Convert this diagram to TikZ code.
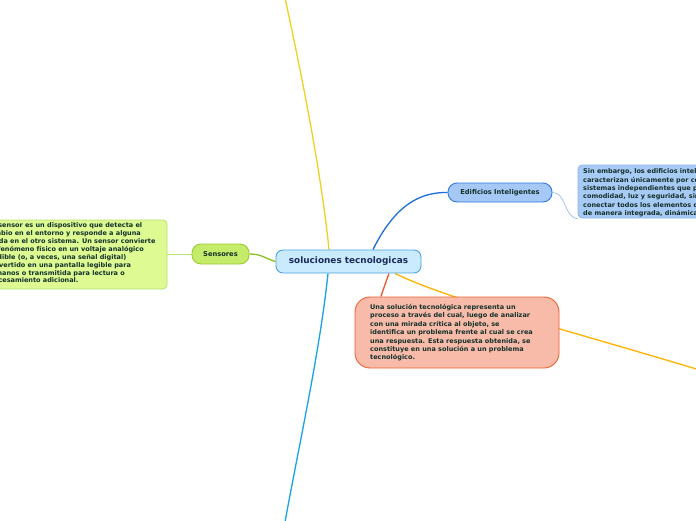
\documentclass[tikz,border=0pt]{standalone}
\usepackage{fontspec}
\setmainfont{DejaVu Sans}
\usetikzlibrary{calc}
\definecolor{cfill}{HTML}{C9EBFD}
\definecolor{cdraw}{HTML}{4AA3DF}
\definecolor{ctext}{HTML}{1B2A5A}
\definecolor{gfill}{HTML}{C5EB6A}
\definecolor{gdraw}{HTML}{9CCB32}
\definecolor{gbox}{HTML}{DDFA93}
\definecolor{gboxd}{HTML}{B8E36A}
\definecolor{efill}{HTML}{A6C8F6}
\definecolor{edraw}{HTML}{2C7BE0}
\definecolor{ebox}{HTML}{A8CBF5}
\definecolor{eboxd}{HTML}{8DB6EE}
\definecolor{rfill}{HTML}{F8BBA9}
\definecolor{rdraw}{HTML}{EC6232}
\definecolor{dtext}{HTML}{12302A}
\definecolor{yline}{HTML}{F0D21C}
\definecolor{lbline}{HTML}{18A4EA}
\definecolor{dbline}{HTML}{1E6FD9}
\definecolor{rline}{HTML}{E85A2A}
\definecolor{oline}{HTML}{FFB300}
\definecolor{gline}{HTML}{8DBF1E}
\pgfdeclarelayer{bgzero}
\pgfdeclarelayer{background}
\pgfsetlayers{bgzero,background,main}
\tikzset{
  topic/.style={draw, line width=0.9pt, inner sep=0pt, font=\bfseries\fontsize{6.7}{7}\selectfont, text=dtext},
  boxtext/.style={align=left, anchor=north west, inner sep=0pt, font=\bfseries\fontsize{6.5}{8.4}\selectfont, text=dtext},
  conn/.style={line width=1.3pt},
  thin link/.style={line width=0.6pt}
}
\begin{document}
\begin{tikzpicture}[x=1pt,y=-1pt]
\useasboundingbox (0,0) rectangle (696,520);
\begin{pgfonlayer}{bgzero}
\fill[white] (0,0) rectangle (696,520);
\end{pgfonlayer}
\clip (0,0) rectangle (696,520);
% central
\node[draw=cdraw, fill=cfill, line width=0.9pt, rounded corners=7pt, minimum width=145pt, minimum height=23pt, inner sep=0pt, text=ctext, font=\bfseries\fontsize{8.9}{9}\selectfont] (c) at (348.5,261.5) {soluciones tecnologicas};
% sensores
\node[topic, draw=gdraw, fill=gfill, rounded corners=9pt, minimum width=57pt, minimum height=20pt] (s) at (220.5,254) {Sensores};
\node[draw=gboxd, fill=gbox, line width=0.7pt, rounded corners=4pt, minimum width=192pt, minimum height=69pt, inner sep=0pt] (sb) at (71,254.5) {};
\node[boxtext, font=\bfseries\fontsize{6.5}{7.9}\selectfont] (sbt) at (-14,222.5) {Un sensor es un dispositivo que detecta el\\ cambio en el entorno y responde a alguna\\ salida en el otro sistema. Un sensor convierte\\ un fenómeno físico en un voltaje analógico\\ medible (o, a veces, una señal digital)\\ convertido en una pantalla legible para\\ humanos o transmitida para lectura o\\ procesamiento adicional.};
% edificios
\node[topic, draw=edraw, fill=efill, rounded corners=9pt, minimum width=104pt, minimum height=19pt] (e) at (500,192.5) {Edificios Inteligentes};
\node[draw=eboxd, fill=ebox, line width=0.7pt, rounded corners=4pt, minimum width=142pt, minimum height=53pt, inner sep=0pt] (eb) at (649,191.5) {};
\node[boxtext] (ebt) at (583,168.5) {Sin embargo, los edificios inteligentes no se\\ caracterizan únicamente por contar con\\ sistemas independientes que proporcionen\\ comodidad, luz y seguridad, sino por\\ conectar todos los elementos que lo componen\\ de manera integrada, dinámica y eficiente.};
% red box
\node[draw=rdraw, fill=rfill, line width=0.9pt, rounded corners=15pt, minimum width=204pt, minimum height=71pt, inner sep=0pt] (r) at (457,332.5) {};
\node[boxtext] (rt) at (370,304) {Una solución tecnológica representa un\\ proceso a través del cual, luego de analizar\\ con una mirada crítica al objeto, se\\ identifica un problema frente al cual se crea\\ una respuesta. Esta respuesta obtenida, se\\ constituye en una solución a un problema\\ tecnológico.};
% free ends
\coordinate (ytop) at (285,-2);
\coordinate (bbot) at (285,522);
\coordinate (oend) at (698,369.5);
\begin{pgfonlayer}{background}
\draw[conn, yline] (ytop) .. controls (305,90) and (322,180) .. ([xshift=-19.5pt]c.north);
\draw[conn, lbline] ([xshift=-20.5pt]c.south) .. controls (320,350) and (300,440) .. (bbot);
\draw[conn, dbline] ([xshift=24.5pt]c.north) .. controls (395,205) and (420,192) .. (e.west);
\draw[conn, gline] (s.east) .. controls (262,254) and (265,258.5) .. (c.west);
\draw[conn, rline] ([xshift=40.5pt]c.south) .. controls (386,282) and (383,290) .. ([xshift=-76pt]r.north);
\draw[conn, oline] ([xshift=46.5pt]c.south) .. controls (450,300) and (550,325) .. (oend);
\draw[thin link, eboxd] (e.east) .. controls (566,192) and (564,217.5) .. ([yshift=-0.5pt]eb.south west);
\draw[thin link, gboxd] (s.west) -- (s.west -| sb.east);
\end{pgfonlayer}
\end{tikzpicture}
\end{document}
